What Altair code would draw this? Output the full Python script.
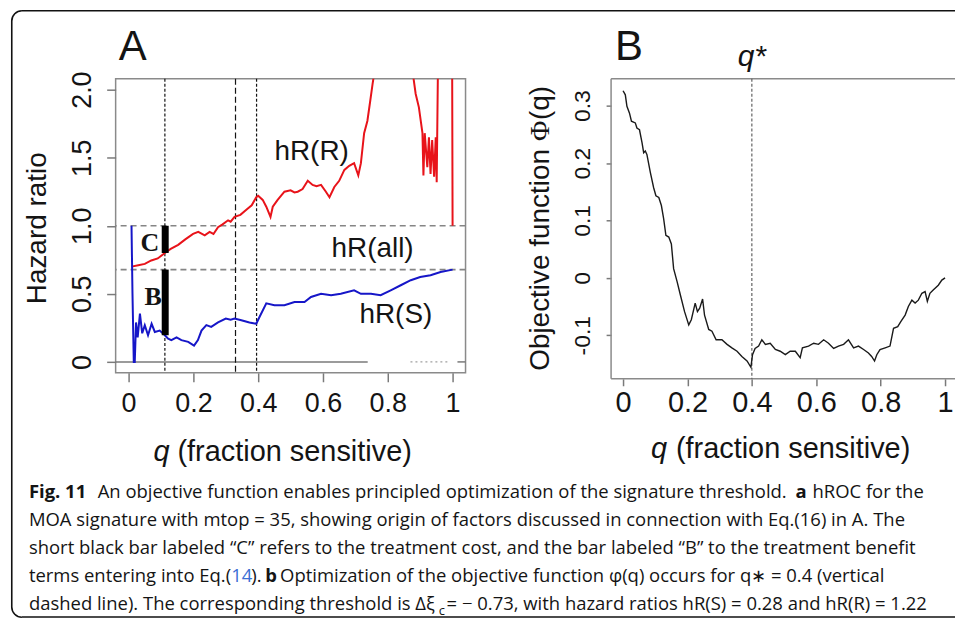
import altair as alt
import pandas as pd

# ---------------- Panel A data ----------------
r_q = [0.009, 0.03, 0.05, 0.07, 0.09, 0.112, 0.13, 0.153, 0.175, 0.199, 0.215, 0.235, 0.25, 0.262,
       0.276, 0.29, 0.307, 0.315, 0.327, 0.345, 0.368, 0.38, 0.394, 0.40, 0.414, 0.425, 0.438, 0.445,
       0.46, 0.481, 0.50, 0.512, 0.522, 0.537, 0.553, 0.568, 0.58, 0.594, 0.609, 0.62, 0.635, 0.65,
       0.666, 0.681, 0.696, 0.709, 0.717, 0.727, 0.737, 0.746, 0.753, 0.76, 0.80, 0.85, 0.872, 0.879,
       0.886, 0.896, 0.907, 0.91, 0.914, 0.922, 0.927, 0.932, 0.937, 0.943, 0.948, 0.951, 0.955, 0.97,
       0.998, 1.0]
r_hr = [0.70, 0.71, 0.72, 0.745, 0.76, 0.80, 0.83, 0.86, 0.90, 0.94, 0.955, 0.93, 0.955, 0.94,
        0.99, 1.01, 1.04, 1.03, 1.065, 1.08, 1.126, 1.15, 1.21, 1.22, 1.19, 1.14, 1.065, 1.14,
        1.19, 1.25, 1.26, 1.245, 1.25, 1.27, 1.33, 1.30, 1.29, 1.30, 1.25, 1.21, 1.285, 1.33,
        1.41, 1.44, 1.46, 1.37, 1.46, 1.68, 1.77, 1.92, 2.04, 2.15, 2.6, 2.6, 2.2, 2.09,
        1.97, 1.87, 1.68, 1.37, 1.68, 1.43, 1.65, 1.38, 1.63, 1.36, 1.65, 1.32, 2.2, 2.8,
        2.8, 1.0]
s_q = [0.009, 0.012, 0.016, 0.019, 0.023, 0.028, 0.035, 0.042, 0.05, 0.06, 0.071, 0.081, 0.096,
       0.112, 0.122, 0.132, 0.148, 0.163, 0.184, 0.202, 0.214, 0.225, 0.24, 0.255, 0.276, 0.30,
       0.315, 0.327, 0.348, 0.373, 0.394, 0.404, 0.425, 0.45, 0.481, 0.512, 0.543, 0.563, 0.594,
       0.625, 0.655, 0.696, 0.717, 0.748, 0.778, 0.809, 0.84, 0.871, 0.90, 0.932, 0.963, 1.0]
s_hr = [1.0, 0.5, 0.0, 0.0, 0.29, 0.18, 0.355, 0.21, 0.27, 0.196, 0.28, 0.22, 0.23,
        0.196, 0.17, 0.16, 0.18, 0.16, 0.147, 0.12, 0.16, 0.23, 0.27, 0.257, 0.29, 0.318,
        0.31, 0.318, 0.306, 0.29, 0.28, 0.33, 0.43, 0.416, 0.416, 0.44, 0.44, 0.477, 0.50,
        0.49, 0.50, 0.526, 0.50, 0.50, 0.49, 0.526, 0.563, 0.60, 0.624, 0.636, 0.66, 0.678]
hr_all = 0.678
hr_one = 1.0
cut_q = [0.112, 0.330, 0.395]
bar_names = ["C", "B"]
bar_q = [0.113, 0.113]
bar_lo = [0.80, 0.196]
bar_hi = [1.0, 0.678]
series_labels = ["hR(R)", "hR(all)", "hR(S)"]

# ---------------- Panel B data ----------------
phi_q = [0.0, 0.007, 0.012, 0.02, 0.026, 0.038, 0.043, 0.051, 0.059, 0.064, 0.069, 0.074, 0.085,
         0.095, 0.102, 0.111, 0.119, 0.126, 0.133, 0.142, 0.15, 0.157, 0.168, 0.178, 0.191, 0.204,
         0.212, 0.224, 0.231, 0.238, 0.247, 0.253, 0.266, 0.276, 0.289, 0.307, 0.323, 0.338, 0.354,
         0.369, 0.385, 0.397, 0.402, 0.41, 0.421, 0.431, 0.442, 0.457, 0.473, 0.488, 0.504, 0.519,
         0.535, 0.55, 0.557, 0.576, 0.592, 0.607, 0.623, 0.638, 0.654, 0.669, 0.685, 0.70, 0.716,
         0.731, 0.747, 0.762, 0.772, 0.781, 0.788, 0.798, 0.814, 0.829, 0.84, 0.853, 0.863, 0.876,
         0.886, 0.897, 0.907, 0.917, 0.928, 0.938, 0.945, 0.953, 0.964, 0.979, 0.99, 1.0]
phi_v = [0.326, 0.319, 0.299, 0.287, 0.273, 0.270, 0.261, 0.258, 0.235, 0.218, 0.221, 0.215, 0.183,
         0.157, 0.143, 0.140, 0.126, 0.103, 0.074, 0.071, 0.059, 0.016, -0.007, -0.030, -0.059, -0.082,
         -0.073, -0.044, -0.059, -0.053, -0.037, -0.065, -0.090, -0.093, -0.108, -0.108, -0.116, -0.122, -0.128,
         -0.137, -0.145, -0.156, -0.134, -0.123, -0.119, -0.108, -0.116, -0.114, -0.125, -0.128, -0.134, -0.128,
         -0.128, -0.139, -0.122, -0.119, -0.114, -0.116, -0.108, -0.114, -0.123, -0.119, -0.116, -0.108, -0.122,
         -0.119, -0.125, -0.131, -0.137, -0.145, -0.134, -0.125, -0.122, -0.119, -0.088, -0.085, -0.076, -0.065,
         -0.050, -0.039, -0.044, -0.039, -0.027, -0.024, -0.041, -0.027, -0.021, -0.013, -0.004, 0.0]
q_star = 0.4

# ---------------- Text ----------------
x_title_q = "q"
x_title_rest = "(fraction sensitive)"
a_ytitle = "Hazard ratio"
b_ytitle = ["Objective function ", "Φ", "(q)"]
cap_l1 = ["Fig. 11", "An objective function enables principled optimization of the signature threshold.", "a", "hROC for the"]
cap_l2 = "MOA signature with mtop = 35, showing origin of factors discussed in connection with Eq.(16) in A. The"
cap_l3 = "short black bar labeled “C” refers to the treatment cost, and the bar labeled “B” to the treatment benefit"
cap_l4 = ["terms entering into Eq.(", "14", ").", "b", "Optimization of the objective function φ(q) occurs for q∗ = 0.4 (vertical"]
cap_l5 = ["dashed line). The corresponding threshold is Δξ", "c", "= − 0.73, with hazard ratios hR(S) = 0.28 and hR(R) = 1.22"]

SANS = "Liberation Sans, Arial, Helvetica, sans-serif"
SERIF = "Liberation Serif, Times New Roman, serif"
CAP = "Open Sans, Noto Sans, sans-serif"
INK = "#141414"
GRAY = "#858585"
FRAME = "#8a8a8a"


# ---------------- helpers ----------------
def one():
    return alt.Data(values=[{}])


def txt(s, x, y, size, font=SANS, weight="normal", style="normal", color=INK, angle=0,
        align="left", baseline="alphabetic"):
    kw = dict(font=font, fontSize=size, fontWeight=weight, fontStyle=style, color=color,
              align=align, baseline=baseline)
    if angle:
        kw["angle"] = angle
    return alt.Chart(alt.Data(values=[{"t": s}])).mark_text(**kw).encode(
        x=alt.value(x), y=alt.value(y), text="t:N")


def dtxt(s, x, y, size, font=SANS, weight="normal", style="normal", color=INK):
    return alt.Chart(alt.Data(values=[{"t": s}])).mark_text(
        font=font, fontSize=size, fontWeight=weight, fontStyle=style, color=color,
        align="center", baseline="middle").encode(x=alt.datum(x), y=alt.datum(y), text="t:N")


def prule(x, x2, y, y2, color="#111111", width=1.6):
    return alt.Chart(one()).mark_rule(color=color, strokeWidth=width).encode(
        x=alt.value(x), x2=alt.value(x2), y=alt.value(y), y2=alt.value(y2))


def corner(cx, cy, t0, t1):
    return alt.Chart(one()).mark_arc(radius=11, radius2=9.4, theta=t0, theta2=t1, color="#111111").encode(
        x=alt.value(cx), y=alt.value(cy))


common_axis = dict(grid=False, domain=False, tickColor="#7a7a7a", tickWidth=1.5,
                   labelColor=INK, labelFont=SANS, labelFlush=False, labelOverlap=False, title=None)

# ---------------- Panel A ----------------
sxA = alt.Scale(domain=[-0.04, 1.04], nice=False, zero=False)
syA = alt.Scale(domain=[-0.08, 2.08], nice=False, zero=False)
axxA = alt.Axis(values=[0, 0.2, 0.4, 0.6, 0.8, 1.0], tickSize=9, labelPadding=9, labelFontSize=27,
                labelExpr="datum.value == 0 ? '0' : datum.value == 1 ? '1' : format(datum.value, '.1f')",
                **common_axis)
axyA = alt.Axis(values=[0, 0.5, 1.0, 1.5, 2.0], tickSize=9, labelPadding=16, labelFontSize=27,
                labelAngle=270, labelAlign="center", labelBaseline="alphabetic",
                labelExpr="datum.value == 0 ? '0' : format(datum.value, '.1f')", **common_axis)


def XA(f="q"):
    return alt.X(f"{f}:Q", scale=sxA, axis=axxA)


def YA(f="v"):
    return alt.Y(f"{f}:Q", scale=syA, axis=axyA)


red_df = pd.DataFrame({"q": r_q, "v": r_hr})
blue_df = pd.DataFrame({"q": s_q, "v": s_hr})
bars_df = pd.DataFrame({"name": bar_names, "q": bar_q, "lo": bar_lo, "hi": bar_hi})
cut_df = pd.DataFrame({"q": cut_q, "kind": ["dot", "dash", "dot"]})

# rounded figure border (open to the right, like the cropped reference)
PI = 3.141592653589793
border = [
    prule(-94, 842, -68.2, -68.2),
    prule(-104.2, -104.2, -58, 530),
    prule(-94, 842, 540, 540),
    corner(-94, -58, 1.5 * PI, 2 * PI),
    corner(-94, 530, PI, 1.5 * PI),
]

zero1 = alt.Chart(one()).mark_rule(color="#7a7a7a", strokeWidth=1.5).encode(
    x=alt.datum(-0.04), x2=alt.datum(0.738), y=alt.datum(0))
zero2 = alt.Chart(one()).mark_rule(color="#a0a0a0", strokeWidth=1.2, strokeDash=[2, 3]).encode(
    x=alt.datum(0.87), x2=alt.datum(0.985), y=alt.datum(0))
zero3 = alt.Chart(one()).mark_rule(color="#7a7a7a", strokeWidth=1.5).encode(
    x=alt.datum(1.015), x2=alt.datum(1.04), y=alt.datum(0))

h_all = alt.Chart(one()).mark_rule(color=GRAY, strokeWidth=1.6, strokeDash=[6, 4]).encode(
    y=alt.datum(hr_all))
h_one = alt.Chart(one()).mark_rule(color=GRAY, strokeWidth=1.6, strokeDash=[6, 4]).encode(
    y=alt.datum(hr_one))

v_dot = alt.Chart(cut_df).transform_filter("datum.kind == 'dot'").mark_rule(
    color=INK, strokeWidth=1.2, strokeDash=[3, 2]).encode(x=XA())
v_dash = alt.Chart(cut_df).transform_filter("datum.kind == 'dash'").mark_rule(
    color=INK, strokeWidth=1.2, strokeDash=[6, 3]).encode(x=XA())

red = alt.Chart(red_df).mark_line(color="#e8131a", strokeWidth=2, clip=True).encode(
    x=XA(), y=YA(), order="q:Q")
blue = alt.Chart(blue_df).mark_line(color="#1616c8", strokeWidth=2, clip=True).encode(
    x=XA(), y=YA(), order="q:Q")
bars = alt.Chart(bars_df).mark_rule(color="black", strokeWidth=7).encode(
    x=XA(), y=YA("lo"), y2="hi:Q")

lab_C = dtxt(bar_names[0], 0.066, 0.87, 26, font=SERIF, weight="bold")
lab_B = dtxt(bar_names[1], 0.076, 0.48, 26, font=SERIF, weight="bold")
lab_R = dtxt(series_labels[0], 0.565, 1.54, 28)
lab_all = dtxt(series_labels[1], 0.753, 0.83, 28)
lab_S = dtxt(series_labels[2], 0.825, 0.345, 28)

# titles (pixel offsets from panel A plot origin)
a_panel = txt("A", 17, -19, 42, align="center")
a_yt = txt(a_ytitle, -78, 150, 28, angle=270, align="center", baseline="middle")
a_xq = txt(x_title_q, 38, 383, 29, style="italic")
a_xr = txt(x_title_rest, 62, 383, 29)

# caption
CS = 18.5
X0 = -87
BL = [421, 449, 477, 505, 533]
cap = [
    txt(cap_l1[0], X0, BL[0], CS, font=CAP, weight="bold"),
    txt(cap_l1[1], -18, BL[0], CS, font=CAP),
    txt(cap_l1[2], 682, BL[0], CS, font=CAP, weight="bold"),
    txt(cap_l1[3], 699, BL[0], CS, font=CAP),
    txt(cap_l2, X0, BL[1], CS, font=CAP),
    txt(cap_l3, X0, BL[2], CS, font=CAP),
    txt(cap_l4[0], X0, BL[3], CS, font=CAP),
    txt(cap_l4[1], 116, BL[3], CS, font=CAP, color="#3b6fd4"),
    txt(cap_l4[2], 136, BL[3], CS, font=CAP),
    txt(cap_l4[3], 150, BL[3], CS, font=CAP, weight="bold"),
    txt(cap_l4[4], 165, BL[3], CS, font=CAP),
    txt(cap_l5[0], X0, BL[4], CS, font=CAP),
    txt(cap_l5[1], 324, BL[4] + 5, 13, font=CAP),
    txt(cap_l5[2], 332, BL[4], CS, font=CAP),
]

panelA = alt.layer(
    *border, zero1, zero2, zero3, h_all, h_one, v_dot, v_dash, red, blue, bars,
    lab_C, lab_B, lab_R, lab_all, lab_S, a_panel, a_yt, a_xq, a_xr, *cap
).properties(width=351, height=295, view=alt.ViewBackground(stroke=FRAME, strokeWidth=1.5))

# ---------------- Panel B ----------------
WB, HB = 344, 301
sxB = alt.Scale(domain=[-0.0372, 1.0278], nice=False, zero=False)
syB = alt.Scale(domain=[-0.176, 0.347], nice=False, zero=False)
axxB = alt.Axis(values=[0, 0.2, 0.4, 0.6, 0.8, 1.0], tickSize=7, labelPadding=3, labelFontSize=29,
                labelExpr="datum.value == 0 ? '0' : datum.value == 1 ? '1' : format(datum.value, '.1f')",
                **common_axis)
axyB = alt.Axis(values=[-0.1, 0, 0.1, 0.2, 0.3], tickSize=5, labelPadding=17, labelFontSize=23,
                labelAngle=270, labelAlign="center", labelBaseline="alphabetic",
                labelExpr="datum.value == 0 ? '0' : (datum.value < 0 ? '-' + format(-datum.value, '.1f') : format(datum.value, '.1f'))",
                **common_axis)

phi_df = pd.DataFrame({"q": phi_q, "v": phi_v})
qs_df = pd.DataFrame({"q": [q_star]})

b_frame = [
    prule(0, 0, 0, HB, color=FRAME, width=1.5),
    prule(0, WB + 1, 0, 0, color=FRAME, width=1.5),
    prule(0, WB + 1, HB, HB, color=FRAME, width=1.5),
]
b_vline = alt.Chart(qs_df).mark_rule(color="#555555", strokeWidth=1.1, strokeDash=[3, 2]).encode(
    x=alt.X("q:Q", scale=sxB, axis=axxB))
b_line = alt.Chart(phi_df).mark_line(color="#1a1a1a", strokeWidth=1.4).encode(
    x=alt.X("q:Q", scale=sxB, axis=axxB), y=alt.Y("v:Q", scale=syB, axis=axyB), order="q:Q")
b_qstar = alt.Chart(qs_df).mark_text(font=SANS, fontSize=30, fontStyle="italic", color=INK,
                                     align="center", baseline="alphabetic").encode(
    x=alt.X("q:Q", scale=sxB, axis=axxB), y=alt.value(-13), text=alt.value("q*"))
b_panel = txt("B", 18, -19, 42, align="center")
b_yt = [
    txt(b_ytitle[0], -70, 293, 28, angle=270, align="left", baseline="middle"),
    txt(b_ytitle[1], -70, 62.5, 28, font=SERIF, angle=270, align="left", baseline="middle"),
    txt(b_ytitle[2], -70, 41.5, 28, angle=270, align="left", baseline="middle"),
]
b_xq = txt(x_title_q, 40, 380, 29, style="italic")
b_xr = txt(x_title_rest, 65, 380, 29)

panelB = alt.layer(*b_frame, b_vline, b_line, b_qstar, b_panel, *b_yt, b_xq, b_xr).properties(
    width=WB, height=HB, view=alt.ViewBackground(strokeOpacity=0))

chart = alt.hconcat(panelA, panelB, spacing=146, bounds="flush").properties(
    padding={"left": 10, "top": 8, "right": 0, "bottom": 0},
    autosize=alt.AutoSizeParams(type="pad"),
    background="white",
)

chart.save("out.html", embed_options={"renderer": "svg", "actions": False})
